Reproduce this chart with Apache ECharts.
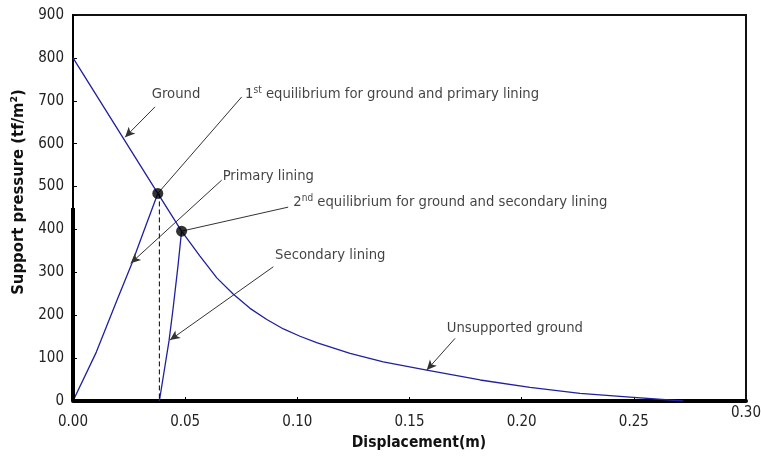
<!DOCTYPE html>
<html>
<head>
<meta charset="utf-8">
<script src="https://cdn.jsdelivr.net/npm/echarts@6/dist/echarts.min.js"></script>
<style>
  html, body { margin: 0; padding: 0; background: #fff; }
  #chart { width: 761px; height: 459px; }
</style>
</head>
<body>
<div id="chart"></div>
<script>
// Ground reaction curve (displacement in m, support pressure in tf/m2)
const groundX = [0, 0.0378, 0.0484, 0.0566, 0.0641, 0.0715, 0.0789, 0.0864, 0.0938, 0.1012, 0.1086, 0.1235, 0.1383, 0.1577, 0.1815, 0.2037, 0.2260, 0.2483, 0.2720];
const groundY = [800, 484, 396, 338, 287, 249, 216, 190, 168, 151, 136, 111, 91, 72, 49, 32, 18, 9, 0];

// Primary lining response
const primaryX = [0, 0.0104, 0.0200, 0.0262, 0.0315, 0.0378];
const primaryY = [0, 114, 240, 320, 395, 484];

// Secondary lining response (installed after the first equilibrium)
const secondaryX = [0.0385, 0.0428, 0.0446, 0.0468, 0.0484];
const secondaryY = [0, 140, 215, 315, 396];

// Equilibrium points
const equilibriumX = [0.0378, 0.0484];
const equilibriumY = [484, 396];

// Axis ticks
const xTicks = [0, 0.05, 0.10, 0.15, 0.20, 0.25, 0.30];
const yTicks = [0, 100, 200, 300, 400, 500, 600, 700, 800, 900];

const FONT = "'DejaVu Sans Condensed', 'DejaVu Sans', sans-serif";
const CURVE = '#2020a0';
const INK = '#111';

const zip = (xs, ys) => xs.map((x, i) => [x, ys[i]]);

// Annotation labels: text anchor (left, middle) and leader line in data units
const notes = [
  { text: 'Ground', at: [0.0351, 716], from: [0.0366, 686], to: [0.0232, 615], arrow: true },
  { text: '{n|1}{s|st}{n| equilibrium for ground and primary lining}', at: [0.0767, 716], from: [0.0752, 709], to: 0, arrow: false },
  { text: 'Primary lining', at: [0.0667, 525], from: [0.0663, 515], to: [0.0257, 321], arrow: true },
  { text: '{n|2}{s|nd}{n| equilibrium for ground and secondary lining}', at: [0.0982, 464], from: [0.0959, 452], to: 1, arrow: false },
  { text: 'Secondary lining', at: [0.0901, 339], from: [0.0893, 313], to: [0.0432, 142], arrow: true },
  { text: 'Unsupported ground', at: [0.1666, 170], from: [0.1703, 146], to: [0.1577, 72], arrow: true }
];

const target = t => typeof t === 'number' ? [equilibriumX[t], equilibriumY[t]] : t;

const chart = echarts.init(document.getElementById('chart'), null, { renderer: 'canvas' });

const option = {
  animation: false,
  backgroundColor: '#fff',
  textStyle: { fontFamily: FONT },
  grid: { left: 73, right: 15, top: 15, bottom: 58, show: true, borderColor: '#111', borderWidth: 2 },
  xAxis: {
    type: 'value', min: xTicks[0], max: xTicks[xTicks.length - 1], interval: 0.05,
    name: 'Displacement(m)', nameLocation: 'middle', nameGap: 33,
    nameTextStyle: { fontFamily: FONT, fontSize: 15.5, fontWeight: 'bold', color: INK, padding: [0, 0, 0, 19] },
    axisLine: { show: true, onZero: false, lineStyle: { color: '#000', width: 4 } },
    axisTick: { show: true, inside: true, length: 4, lineStyle: { color: '#000', width: 1 } },
    splitLine: { show: false },
    axisLabel: { margin: 14, fontSize: 15, color: '#222', fontFamily: FONT, showMaxLabel: false,
      formatter: v => v.toFixed(2) }
  },
  yAxis: {
    type: 'value', min: yTicks[0], max: yTicks[yTicks.length - 1], interval: 100,
    name: 'Support pressure (tf/m\u00B2)', nameLocation: 'middle', nameGap: 42,
    nameTextStyle: { fontFamily: FONT, fontSize: 16.5, fontWeight: 'bold', color: INK, padding: [0, 0, 0, 32] },
    axisLine: { show: true, onZero: false, lineStyle: { color: '#000', width: 2 } },
    axisTick: { show: true, inside: true, length: 4, lineStyle: { color: '#000', width: 1 } },
    splitLine: { show: false },
    axisLabel: { margin: 9, fontSize: 15, color: '#222', fontFamily: FONT }
  },
  series: [
    {
      name: 'axisHeavy', type: 'line', silent: true, clip: false, showSymbol: false, z: 5,
      data: [[0, 0], [0, 450]],
      lineStyle: { color: '#000', width: 4 }
    },
    {
      name: 'Ground', type: 'line', showSymbol: false, data: zip(groundX, groundY),
      lineStyle: { color: CURVE, width: 1.3 }
    },
    {
      name: 'Primary lining', type: 'line', showSymbol: false, data: zip(primaryX, primaryY),
      lineStyle: { color: CURVE, width: 1.3 }
    },
    {
      name: 'Secondary lining', type: 'line', showSymbol: false, data: zip(secondaryX, secondaryY),
      lineStyle: { color: CURVE, width: 1.3 }
    },
    {
      name: 'Installation', type: 'line', showSymbol: false,
      data: [[secondaryX[0], equilibriumY[0]], [secondaryX[0], 0]],
      lineStyle: { color: '#000', width: 1, type: [5, 3] }
    },
    {
      name: 'Equilibrium', type: 'scatter', symbol: 'circle', symbolSize: 11, z: 6,
      data: zip(equilibriumX, equilibriumY),
      itemStyle: { color: '#000' }
    },
    {
      name: 'Notes', type: 'scatter', symbolSize: 0, silent: true, z: 7,
      data: notes.map(n => ({ value: n.at, label: { formatter: n.text } })),
      label: {
        show: true, position: 'right', distance: 0, align: 'left', verticalAlign: 'middle',
        fontFamily: FONT, fontSize: 14.7, color: INK,
        rich: {
          n: { fontFamily: FONT, fontSize: 14.7, color: INK, lineHeight: 17 },
          s: { fontFamily: FONT, fontSize: 10, color: INK, lineHeight: 11, verticalAlign: 'top' }
        }
      },
      markLine: {
        silent: true, symbol: ['none', 'none'], animation: false,
        label: { show: false },
        lineStyle: { color: '#333', width: 1, type: 'solid' },
        data: notes.map(n => [
          { coord: n.from, symbol: 'none' },
          { coord: target(n.to), symbol: n.arrow ? 'arrow' : 'none', symbolSize: [7, 10] }
        ])
      }
    }
  ]
};

chart.setOption(option);

// The last x tick label sits slightly above the others
const maxPx = chart.convertToPixel({ gridIndex: 0 }, [xTicks[xTicks.length - 1], 0]);
chart.setOption({
  graphic: [{
    type: 'text', x: maxPx[0], y: maxPx[1] + 12,
    style: { text: xTicks[xTicks.length - 1].toFixed(2), fontFamily: FONT, fontSize: 15, fill: '#222',
      align: 'center', verticalAlign: 'middle' }
  }]
});
</script>
</body>
</html>
